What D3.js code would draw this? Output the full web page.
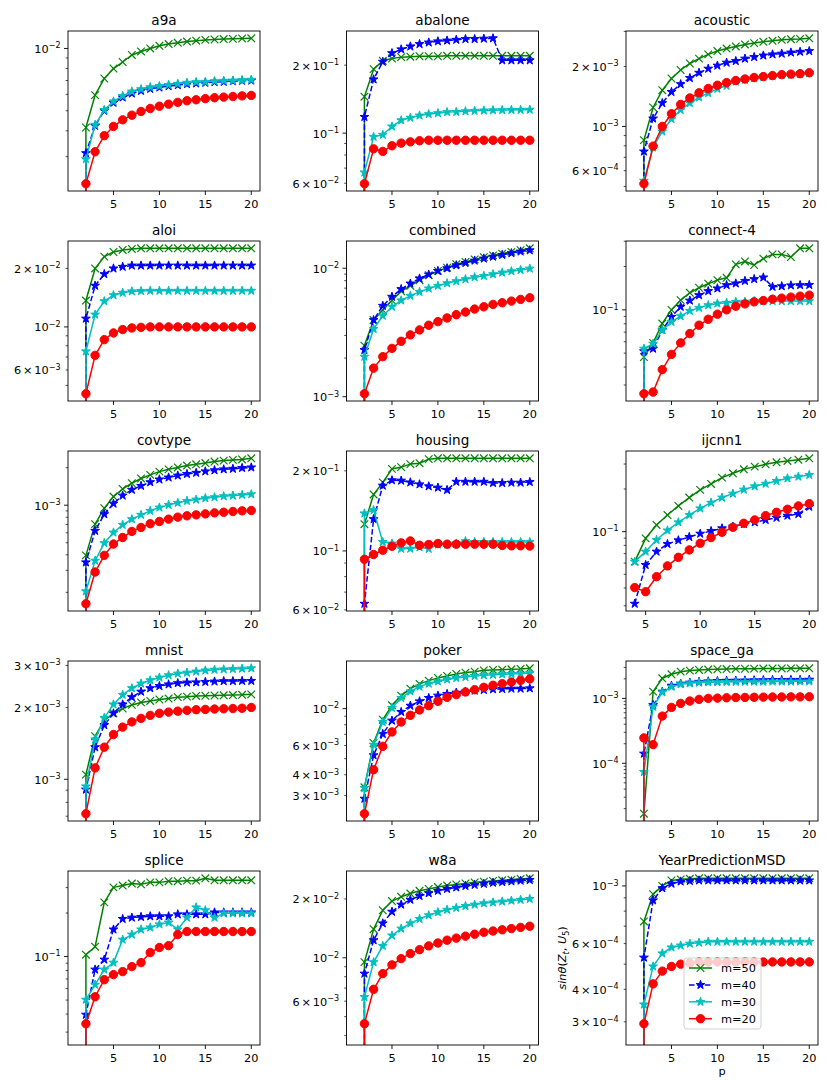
<!DOCTYPE html>
<html><head><meta charset="utf-8">
<script src="https://cdn.jsdelivr.net/npm/d3@7"></script>
<style>body{margin:0;background:#fff} svg{display:block} text{font-family:"DejaVu Sans",sans-serif;fill:#000}</style>
</head><body><svg id="chart" width="830" height="1080"></svg>
<script>
// ---------------- data ----------------
const datasets = ["a9a","abalone","acoustic","aloi","combined","connect-4","covtype","housing","ijcnn1","mnist","poker","space_ga","splice","w8a","YearPredictionMSD"];
const seriesLabels = ["m=50","m=40","m=30","m=20"];
const pFull = [1,2,3,4,5,6,7,8,9,10,11,12,13,14,15,16,17,18,19,20];
const pIjcnn = [4,5,6,7,8,9,10,11,12,13,14,15,16,17,18,19,20];
const xTickValues = [5,10,15,20];

const a9a_m50 = [0,4.15e-3,5.95e-3,7.16e-3,8.0e-3,8.6e-3,9.3e-3,9.67e-3,1.0e-2,1.03e-2,1.05e-2,1.065e-2,1.08e-2,1.09e-2,1.10e-2,1.105e-2,1.11e-2,1.113e-2,1.117e-2,1.12e-2];
const a9a_m40 = [0,3.12e-3,4.23e-3,5.0e-3,5.47e-3,5.8e-3,6.06e-3,6.24e-3,6.38e-3,6.48e-3,6.58e-3,6.65e-3,6.73e-3,6.78e-3,6.83e-3,6.88e-3,6.9e-3,6.95e-3,6.98e-3,7.0e-3];
const a9a_m30 = [0,2.92e-3,4.28e-3,5.04e-3,5.55e-3,5.9e-3,6.2e-3,6.36e-3,6.5e-3,6.58e-3,6.67e-3,6.75e-3,6.83e-3,6.88e-3,6.9e-3,6.95e-3,6.98e-3,7.0e-3,7.03e-3,7.06e-3];
const a9a_m20 = [0,2.22e-3,3.17e-3,3.79e-3,4.2e-3,4.52e-3,4.76e-3,4.96e-3,5.13e-3,5.26e-3,5.38e-3,5.49e-3,5.59e-3,5.65e-3,5.72e-3,5.78e-3,5.82e-3,5.86e-3,5.9e-3,5.93e-3];

const abalone_m50 = [0,0.145,0.192,0.209,0.214,0.217,0.218,0.219,0.219,0.219,0.22,0.22,0.22,0.22,0.22,0.22,0.22,0.22,0.22,0.22];
const abalone_m40 = [0,0.118,0.173,0.207,0.226,0.235,0.242,0.248,0.252,0.255,0.257,0.259,0.261,0.261,0.262,0.263,0.210,0.210,0.210,0.210];
const abalone_m30 = [0,0.067,0.0963,0.0983,0.107,0.114,0.117,0.1197,0.1214,0.1226,0.1239,0.1242,0.125,0.1255,0.126,0.1263,0.1265,0.1267,0.1268,0.127];
const abalone_m20 = [0,0.0597,0.0852,0.083,0.0879,0.0903,0.0915,0.0925,0.093,0.093,0.093,0.093,0.093,0.093,0.093,0.093,0.093,0.093,0.093,0.093];

const acoustic_m50 = [0,8.54e-4,1.245e-3,1.52e-3,1.74e-3,1.92e-3,2.07e-3,2.19e-3,2.30e-3,2.39e-3,2.46e-3,2.52e-3,2.58e-3,2.62e-3,2.66e-3,2.69e-3,2.72e-3,2.74e-3,2.75e-3,2.77e-3];
const acoustic_m40 = [0,7.49e-4,1.096e-3,1.31e-3,1.49e-3,1.63e-3,1.75e-3,1.86e-3,1.95e-3,2.02e-3,2.09e-3,2.13e-3,2.19e-3,2.23e-3,2.27e-3,2.30e-3,2.32e-3,2.35e-3,2.37e-3,2.39e-3];
const acoustic_m30 = [0,5.34e-4,7.85e-4,9.44e-4,1.088e-3,1.21e-3,1.31e-3,1.40e-3,1.47e-3,1.545e-3,1.60e-3,1.68e-3,1.715e-3,1.745e-3,1.77e-3,1.79e-3,1.81e-3,1.82e-3,1.835e-3,1.85e-3];
const acoustic_m20 = [0,5.16e-4,7.97e-4,1.0e-3,1.158e-3,1.29e-3,1.39e-3,1.475e-3,1.55e-3,1.61e-3,1.66e-3,1.70e-3,1.73e-3,1.76e-3,1.78e-3,1.80e-3,1.82e-3,1.83e-3,1.84e-3,1.86e-3];

const aloi_m50 = [0,1.367e-2,2.0e-2,2.30e-2,2.43e-2,2.49e-2,2.52e-2,2.54e-2,2.54e-2,2.54e-2,2.54e-2,2.54e-2,2.54e-2,2.54e-2,2.54e-2,2.54e-2,2.54e-2,2.54e-2,2.54e-2,2.54e-2];
const aloi_m40 = [0,1.104e-2,1.63e-2,1.87e-2,2.0e-2,2.04e-2,2.07e-2,2.07e-2,2.07e-2,2.07e-2,2.07e-2,2.07e-2,2.07e-2,2.07e-2,2.07e-2,2.07e-2,2.07e-2,2.07e-2,2.07e-2,2.07e-2];
const aloi_m30 = [0,7.49e-3,1.158e-2,1.357e-2,1.457e-2,1.50e-2,1.525e-2,1.53e-2,1.535e-2,1.535e-2,1.535e-2,1.535e-2,1.535e-2,1.535e-2,1.535e-2,1.535e-2,1.535e-2,1.535e-2,1.535e-2,1.535e-2];
const aloi_m20 = [0,4.53e-3,7.14e-3,8.6e-3,9.31e-3,9.69e-3,9.88e-3,9.95e-3,1.0e-2,1.0e-2,1.0e-2,1.0e-2,1.0e-2,1.0e-2,1.0e-2,1.0e-2,1.0e-2,1.0e-2,1.0e-2,1.0e-2];

const combined_m50 = [0,2.5e-3,3.95e-3,4.73e-3,5.62e-3,6.6e-3,7.3e-3,8.07e-3,8.83e-3,9.53e-3,1.01e-2,1.074e-2,1.12e-2,1.17e-2,1.22e-2,1.26e-2,1.30e-2,1.34e-2,1.38e-2,1.43e-2];
const combined_m40 = [0,2.31e-3,3.95e-3,5.1e-3,6.0e-3,6.88e-3,7.6e-3,8.32e-3,8.93e-3,9.53e-3,1.0e-2,1.055e-2,1.10e-2,1.147e-2,1.19e-2,1.23e-2,1.27e-2,1.31e-2,1.35e-2,1.38e-2];
const combined_m30 = [0,2.05e-3,3.37e-3,4.27e-3,5.01e-3,5.62e-3,6.1e-3,6.55e-3,6.96e-3,7.3e-3,7.65e-3,7.94e-3,8.22e-3,8.52e-3,8.72e-3,8.99e-3,9.26e-3,9.48e-3,9.7e-3,9.94e-3];
const combined_m20 = [0,1.055e-3,1.67e-3,2.05e-3,2.38e-3,2.70e-3,3.03e-3,3.31e-3,3.6e-3,3.84e-3,4.1e-3,4.35e-3,4.56e-3,4.81e-3,5.01e-3,5.23e-3,5.39e-3,5.55e-3,5.72e-3,5.89e-3];

const connect4_m50 = [0,0.047,0.0589,0.0803,0.1,0.1168,0.1314,0.1424,0.152,0.161,0.167,0.207,0.217,0.205,0.227,0.243,0.243,0.233,0.268,0.268];
const connect4_m40 = [0,0.0515,0.0537,0.0722,0.0894,0.105,0.116,0.1265,0.135,0.141,0.1486,0.1527,0.159,0.1636,0.168,0.1446,0.146,0.148,0.1486,0.149];
const connect4_m30 = [0,0.0537,0.0582,0.0722,0.0825,0.0903,0.0984,0.1033,0.1078,0.1107,0.112,0.1137,0.114,0.115,0.115,0.115,0.115,0.115,0.115,0.115];
const connect4_m20 = [0,0.0261,0.0268,0.0384,0.049,0.0589,0.0684,0.0782,0.086,0.0933,0.1,0.106,0.11,0.1137,0.116,0.1187,0.1206,0.1226,0.1245,0.1265];

const covtype_m50 = [0,3.96e-4,7.05e-4,9.46e-4,1.173e-3,1.35e-3,1.50e-3,1.64e-3,1.75e-3,1.86e-3,1.94e-3,2.01e-3,2.08e-3,2.13e-3,2.18e-3,2.24e-3,2.28e-3,2.31e-3,2.33e-3,2.38e-3];
const covtype_m40 = [0,3.48e-4,6.23e-4,8.47e-4,1.03e-3,1.195e-3,1.33e-3,1.43e-3,1.53e-3,1.61e-3,1.67e-3,1.73e-3,1.78e-3,1.82e-3,1.87e-3,1.91e-3,1.94e-3,1.96e-3,1.99e-3,2.01e-3];
const covtype_m30 = [0,2.04e-4,3.59e-4,4.97e-4,6.04e-4,6.96e-4,7.73e-4,8.37e-4,9.01e-4,9.58e-4,1.006e-3,1.044e-3,1.083e-3,1.11e-3,1.138e-3,1.159e-3,1.18e-3,1.195e-3,1.21e-3,1.225e-3];
const covtype_m20 = [0,1.62e-4,2.91e-4,3.96e-4,4.88e-4,5.51e-4,6.16e-4,6.63e-4,7.1e-4,7.4e-4,7.73e-4,8.02e-4,8.22e-4,8.37e-4,8.52e-4,8.68e-4,8.79e-4,8.9e-4,9.01e-4,9.07e-4];

const housing_m50 = [0,0.126,0.163,0.181,0.2035,0.2065,0.212,0.2137,0.2213,0.223,0.223,0.223,0.223,0.223,0.223,0.223,0.223,0.223,0.223,0.223];
const housing_m40 = [0,0.0633,0.1317,0.176,0.1844,0.1838,0.181,0.178,0.175,0.173,0.1695,0.182,0.182,0.182,0.182,0.180,0.180,0.1806,0.1806,0.1816];
const housing_m30 = [0,0.1384,0.1424,0.108,0.1066,0.1018,0.102,0.1032,0.1018,0.1057,0.1057,0.1066,0.1088,0.108,0.108,0.108,0.108,0.108,0.108,0.108];
const housing_m20 = [0,0.093,0.0969,0.1006,0.1041,0.1072,0.109,0.105,0.1057,0.1066,0.106,0.106,0.106,0.106,0.106,0.106,0.1048,0.1045,0.1045,0.1043];

const ijcnn1_m50 = [0.0614,0.0897,0.1115,0.131,0.152,0.174,0.197,0.217,0.2405,0.258,0.2754,0.2875,0.2987,0.3085,0.3155,0.322,0.3294];
const ijcnn1_m40 = [0.031,0.0582,0.0723,0.0818,0.0869,0.0917,0.0968,0.101,0.1056,0.1085,0.1133,0.1164,0.121,0.1255,0.1297,0.1332,0.150];
const ijcnn1_m30 = [0.0614,0.0723,0.0873,0.102,0.1164,0.131,0.146,0.160,0.174,0.1855,0.198,0.209,0.218,0.228,0.2378,0.2445,0.2512];
const ijcnn1_m20 = [0.0403,0.0377,0.0481,0.0573,0.0659,0.0743,0.0828,0.0908,0.099,0.1073,0.1145,0.121,0.1297,0.1369,0.1438,0.1518,0.1576];

const mnist_m50 = [0,1.046e-3,1.516e-3,1.766e-3,1.89e-3,1.98e-3,2.05e-3,2.10e-3,2.13e-3,2.16e-3,2.18e-3,2.21e-3,2.22e-3,2.235e-3,2.24e-3,2.245e-3,2.25e-3,2.255e-3,2.26e-3,2.27e-3];
const mnist_m40 = [0,9.05e-4,1.363e-3,1.687e-3,1.89e-3,2.06e-3,2.21e-3,2.33e-3,2.41e-3,2.46e-3,2.50e-3,2.53e-3,2.545e-3,2.55e-3,2.56e-3,2.57e-3,2.58e-3,2.58e-3,2.585e-3,2.585e-3];
const mnist_m30 = [0,9.34e-4,1.47e-3,1.81e-3,2.06e-3,2.26e-3,2.41e-3,2.52e-3,2.60e-3,2.67e-3,2.73e-3,2.775e-3,2.80e-3,2.83e-3,2.86e-3,2.88e-3,2.89e-3,2.90e-3,2.91e-3,2.92e-3];
const mnist_m20 = [0,7.17e-4,1.116e-3,1.363e-3,1.54e-3,1.655e-3,1.74e-3,1.80e-3,1.853e-3,1.89e-3,1.913e-3,1.93e-3,1.945e-3,1.957e-3,1.963e-3,1.97e-3,1.975e-3,1.98e-3,1.985e-3,2.0e-3];

const poker_m50 = [0,3.36e-3,6.21e-3,8.58e-3,1.047e-2,1.198e-2,1.32e-2,1.41e-2,1.475e-2,1.53e-2,1.574e-2,1.618e-2,1.648e-2,1.67e-2,1.70e-2,1.71e-2,1.717e-2,1.725e-2,1.733e-2,1.75e-2];
const poker_m40 = [0,2.87e-3,5.24e-3,7.04e-3,8.47e-3,9.55e-3,1.042e-2,1.107e-2,1.16e-2,1.198e-2,1.226e-2,1.249e-2,1.266e-2,1.284e-2,1.296e-2,1.308e-2,1.314e-2,1.32e-2,1.32e-2,1.326e-2];
const poker_m30 = [0,3.33e-3,6.07e-3,8.31e-3,1.01e-2,1.16e-2,1.27e-2,1.357e-2,1.414e-2,1.46e-2,1.50e-2,1.53e-2,1.55e-2,1.574e-2,1.588e-2,1.60e-2,1.61e-2,1.618e-2,1.625e-2,1.633e-2];
const poker_m20 = [0,2.33e-3,4.29e-3,5.93e-3,7.24e-3,8.31e-3,9.12e-3,9.82e-3,1.042e-2,1.107e-2,1.17e-2,1.214e-2,1.26e-2,1.30e-2,1.344e-2,1.382e-2,1.414e-2,1.447e-2,1.48e-2,1.51e-2];

const spacega_m50 = [0,1.67e-5,1.27e-3,2.04e-3,2.35e-3,2.58e-3,2.68e-3,2.74e-3,2.78e-3,2.81e-3,2.83e-3,2.85e-3,2.86e-3,2.87e-3,2.88e-3,2.89e-3,2.89e-3,2.90e-3,2.90e-3,2.91e-3];
const spacega_m40 = [0,1.41e-4,7.89e-4,1.27e-3,1.57e-3,1.69e-3,1.75e-3,1.80e-3,1.83e-3,1.85e-3,1.87e-3,1.88e-3,1.89e-3,1.90e-3,1.91e-3,1.92e-3,1.92e-3,1.93e-3,1.93e-3,1.94e-3];
const spacega_m30 = [0,7.34e-5,7.43e-4,1.24e-3,1.51e-3,1.65e-3,1.71e-3,1.75e-3,1.77e-3,1.78e-3,1.79e-3,1.80e-3,1.80e-3,1.81e-3,1.81e-3,1.82e-3,1.82e-3,1.82e-3,1.83e-3,1.83e-3];
const spacega_m20 = [0,2.46e-4,1.94e-4,5.33e-4,7.26e-4,8.37e-4,9.1e-4,9.65e-4,1.0e-3,1.01e-3,1.02e-3,1.03e-3,1.035e-3,1.04e-3,1.045e-3,1.05e-3,1.05e-3,1.055e-3,1.055e-3,1.06e-3];

const splice_m50 = [0,0.103,0.117,0.237,0.301,0.31,0.32,0.316,0.326,0.326,0.332,0.332,0.335,0.335,0.348,0.337,0.337,0.337,0.337,0.337];
const splice_m40 = [0,0.0396,0.0813,0.0953,0.154,0.182,0.186,0.188,0.19,0.19,0.19,0.196,0.196,0.196,0.196,0.202,0.202,0.202,0.202,0.202];
const splice_m30 = [0,0.0503,0.0639,0.0813,0.0908,0.131,0.142,0.154,0.159,0.167,0.172,0.154,0.186,0.219,0.209,0.186,0.199,0.199,0.199,0.199];
const splice_m20 = [0,0.0343,0.0527,0.0692,0.075,0.0787,0.0852,0.0908,0.1066,0.1155,0.119,0.142,0.149,0.149,0.149,0.149,0.149,0.149,0.149,0.149];

const w8a_m50 = [0,9.5e-3,1.4e-2,1.75e-2,1.95e-2,2.05e-2,2.13e-2,2.2e-2,2.25e-2,2.3e-2,2.34e-2,2.37e-2,2.4e-2,2.43e-2,2.45e-2,2.47e-2,2.49e-2,2.51e-2,2.53e-2,2.55e-2];
const w8a_m40 = [0,8.3e-3,1.23e-2,1.5e-2,1.72e-2,1.87e-2,1.98e-2,2.07e-2,2.14e-2,2.2e-2,2.25e-2,2.29e-2,2.33e-2,2.36e-2,2.39e-2,2.42e-2,2.44e-2,2.46e-2,2.48e-2,2.5e-2];
const w8a_m30 = [0,6.3e-3,9.5e-3,1.15e-2,1.3e-2,1.41e-2,1.5e-2,1.58e-2,1.65e-2,1.71e-2,1.76e-2,1.8e-2,1.84e-2,1.87e-2,1.9e-2,1.92e-2,1.94e-2,1.96e-2,1.98e-2,2.0e-2];
const w8a_m20 = [0,4.6e-3,6.9e-3,8.3e-3,9.2e-3,9.9e-3,1.05e-2,1.1e-2,1.15e-2,1.19e-2,1.23e-2,1.26e-2,1.29e-2,1.32e-2,1.35e-2,1.37e-2,1.39e-2,1.41e-2,1.43e-2,1.45e-2];

const year_m50 = [0,7.3e-4,9.3e-4,1.0e-3,1.05e-3,1.06e-3,1.065e-3,1.07e-3,1.07e-3,1.07e-3,1.07e-3,1.07e-3,1.07e-3,1.07e-3,1.07e-3,1.07e-3,1.07e-3,1.07e-3,1.07e-3,1.07e-3];
const year_m40 = [0,5.3e-4,8.8e-4,9.8e-4,1.02e-3,1.04e-3,1.045e-3,1.05e-3,1.05e-3,1.05e-3,1.05e-3,1.05e-3,1.05e-3,1.05e-3,1.05e-3,1.05e-3,1.05e-3,1.05e-3,1.05e-3,1.05e-3];
const year_m30 = [0,3.5e-4,4.9e-4,5.5e-4,5.8e-4,5.9e-4,6.0e-4,6.05e-4,6.1e-4,6.1e-4,6.1e-4,6.1e-4,6.1e-4,6.1e-4,6.1e-4,6.1e-4,6.1e-4,6.1e-4,6.1e-4,6.1e-4];
const year_m20 = [0,2.95e-4,4.2e-4,4.7e-4,4.9e-4,5.0e-4,5.05e-4,5.1e-4,5.1e-4,5.1e-4,5.1e-4,5.1e-4,5.1e-4,5.1e-4,5.1e-4,5.1e-4,5.1e-4,5.1e-4,5.1e-4,5.1e-4];

// labelled y ticks of each panel (same order as datasets)
const yTickLabels = [
  [1e-2],
  [2e-1,1e-1,6e-2],
  [2e-3,1e-3,6e-4],
  [2e-2,1e-2,6e-3],
  [1e-2,1e-3],
  [1e-1],
  [1e-3],
  [2e-1,1e-1,6e-2],
  [1e-1],
  [3e-3,2e-3,1e-3],
  [1e-2,6e-3,4e-3,3e-3],
  [1e-3,1e-4],
  [1e-1],
  [2e-2,1e-2,6e-3],
  [1e-3,6e-4,4e-4,3e-4]
];

const panelSeries = [
  [a9a_m50,a9a_m40,a9a_m30,a9a_m20],
  [abalone_m50,abalone_m40,abalone_m30,abalone_m20],
  [acoustic_m50,acoustic_m40,acoustic_m30,acoustic_m20],
  [aloi_m50,aloi_m40,aloi_m30,aloi_m20],
  [combined_m50,combined_m40,combined_m30,combined_m20],
  [connect4_m50,connect4_m40,connect4_m30,connect4_m20],
  [covtype_m50,covtype_m40,covtype_m30,covtype_m20],
  [housing_m50,housing_m40,housing_m30,housing_m20],
  [ijcnn1_m50,ijcnn1_m40,ijcnn1_m30,ijcnn1_m20],
  [mnist_m50,mnist_m40,mnist_m30,mnist_m20],
  [poker_m50,poker_m40,poker_m30,poker_m20],
  [spacega_m50,spacega_m40,spacega_m30,spacega_m20],
  [splice_m50,splice_m40,splice_m30,splice_m20],
  [w8a_m50,w8a_m40,w8a_m30,w8a_m20],
  [year_m50,year_m40,year_m30,year_m20]
];
const panelP = datasets.map(d => d === "ijcnn1" ? pIjcnn : pFull);

// ---------------- styles / layout ----------------
const colors = ["#008000","#0000ff","#00bfbf","#ff0000"];
const markers = ["x","star","star","circle"];
const dashes = [null,"5.5,2.4",null,null];
const colLeft = [68, 346.5, 626];
const rowTop = [31, 241, 451, 661, 871];
const rowH = [160, 160, 160, 160, 174];
const W = 192, HREF = 160;
const FS = 11.3, TFS = 13.6;

const svg = d3.select("#chart");
svg.append("rect").attr("width",830).attr("height",1080).attr("fill","#fff");
const defs = svg.append("defs");

function drawMarker(g, type, color, cx, cy) {
  if (type === "circle") {
    g.append("circle").attr("cx",cx).attr("cy",cy).attr("r",4.2)
      .attr("fill",color).attr("stroke",color).attr("stroke-width",1);
  } else if (type === "x") {
    const s = 3.8;
    g.append("path").attr("d",`M${cx-s},${cy-s}L${cx+s},${cy+s}M${cx-s},${cy+s}L${cx+s},${cy-s}`)
      .attr("stroke",color).attr("stroke-width",1.15).attr("fill","none");
  } else {
    const R = 4.6, r = R*0.382;
    const pts = d3.range(10).map(k => {
      const a = -Math.PI/2 + k*Math.PI/5, rr = k%2===0 ? R : r;
      return [cx + rr*Math.cos(a), cy + rr*Math.sin(a)];
    });
    g.append("path").attr("d","M"+pts.map(p=>p.join(",")).join("L")+"Z")
      .attr("fill",color).attr("stroke",color).attr("stroke-width",1).attr("stroke-linejoin","miter");
  }
}

function tickText(sel, v) {
  const e = Math.floor(Math.log10(v) + 1e-9);
  const c = Math.round(v / Math.pow(10, e));
  if (c === 1) {
    sel.append("tspan").text("10");
  } else {
    sel.append("tspan").text(String(c));
    sel.append("tspan").attr("dx", 1.8).text("\u00d7");
    sel.append("tspan").attr("dx", 1.8).text("10");
  }
  sel.append("tspan").attr("font-size", 8).attr("dy", -4.6).text((e < 0 ? "\u2212" : "") + Math.abs(e));
}

datasets.forEach((name, i) => {
  const col = i % 3, row = Math.floor(i / 3);
  const H = rowH[row];
  const g = svg.append("g").attr("transform", `translate(${colLeft[col]},${rowTop[row]})`);
  const ps = panelP[i];
  const series = panelSeries[i];
  const pmin = d3.min(ps), pmax = d3.max(ps), pspan = pmax - pmin;
  const x = d3.scaleLinear().domain([pmin - 0.05*pspan, pmax + 0.05*pspan]).range([0, W]);
  const pos = series.flat().filter(v => v > 0);
  const lo = Math.log10(d3.min(pos)), hi = Math.log10(d3.max(pos)), pad = 0.05*(hi - lo);
  // decades per pixel of a standard-height axes; taller axes extend downward
  const decPerPx = (hi - lo + 2*pad) / HREF;
  const top = hi + pad, bottom = top - H*decPerPx;
  const y = d3.scaleLog().domain([Math.pow(10, bottom), Math.pow(10, top)]).range([H, 0]);

  const cid = "clip" + i;
  defs.append("clipPath").attr("id", cid).append("rect").attr("width", W).attr("height", H);
  const plot = g.append("g").attr("clip-path", `url(#${cid})`);

  const line = d3.line()
    .x(d => x(d.p))
    .y(d => d.v > 0 ? y(d.v) : H + 1e6);

  series.forEach((vals, s) => {
    const pts = vals.map((v, k) => ({p: ps[k], v}));
    const path = plot.append("path").datum(pts).attr("d", line)
      .attr("fill","none").attr("stroke", colors[s]).attr("stroke-width", 1.5)
      .attr("stroke-linejoin","round");
    if (dashes[s]) path.attr("stroke-dasharray", dashes[s]);
    pts.filter(d => d.v > 0).forEach(d => drawMarker(plot, markers[s], colors[s], x(d.p), y(d.v)));
  });

  // frame
  g.append("rect").attr("width", W).attr("height", H).attr("fill","none")
    .attr("stroke","#000").attr("stroke-width",0.9);

  // x ticks
  xTickValues.forEach(t => {
    const tx = x(t);
    g.append("line").attr("x1",tx).attr("x2",tx).attr("y1",H).attr("y2",H+4)
      .attr("stroke","#000").attr("stroke-width",0.9);
    g.append("text").attr("x",tx).attr("y",H+16.5).attr("text-anchor","middle")
      .attr("font-size",FS).text(t);
  });

  // y ticks (log major + minor)
  const [d0, d1] = y.domain();
  for (let e = Math.floor(Math.log10(d0)); e <= Math.ceil(Math.log10(d1)); e++) {
    for (let k = 1; k <= 9; k++) {
      const v = k * Math.pow(10, e);
      if (v < d0 || v > d1) continue;
      const ty = y(v);
      const major = k === 1;
      g.append("line").attr("x1", 0).attr("x2", major ? -4 : -2.3).attr("y1", ty).attr("y2", ty)
        .attr("stroke","#000").attr("stroke-width", major ? 0.9 : 0.7);
    }
  }
  yTickLabels[i].forEach(v => {
    if (v < d0 || v > d1) return;
    const t = g.append("text").attr("x", -7.5).attr("y", y(v) + 4.4)
      .attr("text-anchor","end").attr("font-size", FS);
    tickText(t, v);
  });

  // title
  g.append("text").attr("x", W/2).attr("y", -6.5).attr("text-anchor","middle")
    .attr("font-size", TFS).text(name);

  // last panel: axis labels + legend
  if (i === datasets.length - 1) {
    g.append("text").attr("x", W/2).attr("y", H + 30).attr("text-anchor","middle")
      .attr("font-size", FS).text("p");
    const yl = g.append("text").attr("transform", `translate(-60,${H/2}) rotate(-90)`)
      .attr("text-anchor","middle").attr("font-size", FS);
    yl.append("tspan").attr("font-style","italic").text("sin\u03b8");
    yl.append("tspan").text("(");
    yl.append("tspan").attr("font-style","italic").text("Z");
    yl.append("tspan").attr("font-style","italic").attr("font-size",8).attr("dy",2.5).text("t");
    yl.append("tspan").attr("dy",-2.5).text(", ");
    yl.append("tspan").attr("font-style","italic").text("U");
    yl.append("tspan").attr("font-size",8).attr("dy",2.5).text("5");
    yl.append("tspan").attr("dy",-2.5).text(")");

    const lg = g.append("g").attr("transform", "translate(58,87)");
    lg.append("rect").attr("width", 77).attr("height", 71).attr("rx", 3)
      .attr("fill","#fff").attr("fill-opacity",0.8).attr("stroke","#ccc").attr("stroke-width",0.9);
    seriesLabels.forEach((lab, s) => {
      const ly = 10 + s * 16.9;
      const ln = lg.append("line").attr("x1", 5).attr("x2", 28).attr("y1", ly).attr("y2", ly)
        .attr("stroke", colors[s]).attr("stroke-width", 1.5);
      if (dashes[s]) ln.attr("stroke-dasharray", dashes[s]);
      drawMarker(lg, markers[s], colors[s], 16.5, ly);
      lg.append("text").attr("x", 37).attr("y", ly + 4).attr("font-size", FS).text(lab);
    });
  }
});
</script></body></html>
